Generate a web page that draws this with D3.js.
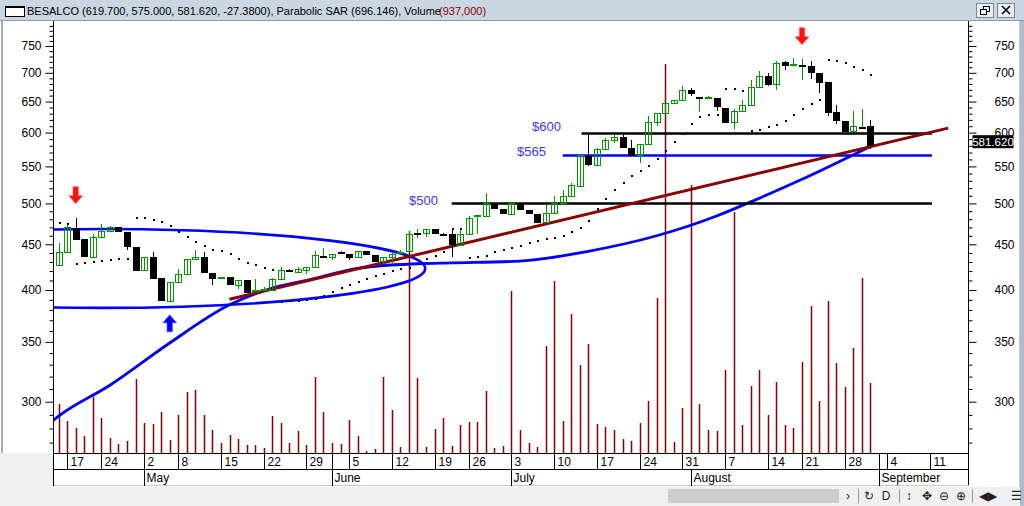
<!DOCTYPE html>
<html>
<head>
<meta charset="utf-8">
<script src="https://cdn.jsdelivr.net/npm/d3@7"></script>
<style>
  body { margin: 0; background: #fff; overflow: hidden; }
  text { font-family: "Liberation Sans", Arial, sans-serif; }
</style>
</head>
<body>
<svg id="chart" width="1024" height="506"></svg>
<script>
// daily bars, index 0 = 13 Apr 2017 (last = 1 Sep)
const opens = [427,441,469,456,436,458,466,470,464,447,421,436,413,389,408,417,433,436,418,412,
  414,405,410,398,400,400,411,422,419,421,424,437,435,441,439,435,442,438,431,436,
  439,442,463,463,468,463,462,449,462,484,484,501,493,487,501,492,486,476,488,501,
  509,523,565,552,575,588,594,577,567,582,617,631,648,653,670,658,655,656,640,617,
  634,645,675,694,680,720,714,715,712,700,683,632,619,602,609,611];
const highs = [452,475,482,456,462,474,472,470,464,447,436,441,413,408,422,433,443,441,418,414,
  414,410,410,411,403,413,424,422,424,424,442,446,439,442,439,442,442,438,436,441,
  444,466,468,468,468,463,469,468,484,485,513,501,493,501,501,492,486,498,509,518,
  527,566,600,576,591,597,599,588,582,626,631,648,653,677,673,658,659,656,640,637,
  653,687,703,699,722,721,728,726,721,700,683,645,619,634,637,619.7];
const lows = [427,441,455,436,436,458,466,466,443,420,421,412,389,388,408,417,433,419,405,412,
  406,401,398,398,399,400,411,420,419,417,424,437,432,440,432,435,439,431,428,428,
  439,442,457,459,463,462,435,449,462,462,484,494,488,487,493,488,476,476,488,501,
  509,523,550,552,575,584,578,567,555,582,610,631,648,653,660,632,655,635,615,606,
  634,643,675,677,669,705,714,687,688,664,626,614,603,602,608,575];
const closes = [441,471,456,437,458,466,470,466,448,421,436,413,390,408,417,433,436,419,413,414,
  406,410,398,400,401,411,421,421,422,424,438,437,439,441,435,442,439,431,436,439,
  441,462,463,468,463,462,450,462,482,485,501,494,488,501,493,488,476,488,501,509,
  524,566,554,575,589,594,578,567,582,617,631,648,653,670,665,658,657,643,617,634,
  645,675,694,680,718,715,716,715,701,683,632,620,603,611,609,581.62];
// volume, thousands of shares
const volumes = [656,428,335,228,754,469,201,121,161,991,402,388,549,174,509,817,844,509,308,134,
  241,187,107,107,67,495,402,134,295,107,1018,549,134,121,442,228,27,54,1018,576,
  80,2972,1004,80,321,469,94,375,415,415,830,67,94,2169,308,134,80,1433,2303,428,
  1861,1178,1459,388,348,308,187,161,402,696,2075,5209,147,603,3589,656,308,295,1111,3227,
  375,897,1111,509,951,375,335,1218,1968,696,2035,1205,884,1406,2343,937];
// Parabolic SAR
const sar = [475,474,428,429,430,431,432,433,433.5,482,481,479,477,472,465,458.5,452.5,447.5,443,442,
  439,433,429,427,423,421.5,388,388.7,389.3,390.3,391,394,398,402.5,405.5,408.5,412,415,417,420,
  422.4,423.5,428,433,437,441,468,468,434.5,435.6,436.4,441,443,446,448.3,451,453.6,456,457.5,460,
  464,469,478,492.4,506,518,527.5,537,544,551,560.5,572,585.5,598,614,625,627.5,627.5,672,672,
  668,603,604.5,609.5,612,619,627.5,638,645.5,653,723,721,717,711,705,696];
// long blue average, read at these bar indices
const avgIdx = [-0.6, 0, 6, 13, 20, 25, 29, 35, 42, 46, 54, 62, 70, 77, 81, 87, 95];
const avgVal = [286, 289, 313, 349, 385, 402, 410, 423, 428, 429, 431, 442, 460, 484, 502, 532, 579];

const priceTicks = [300, 350, 400, 450, 500, 550, 600, 650, 700, 750];
const dayTickIdx = [1, 5, 10, 14, 19, 24, 29, 32, 34, 39, 44, 48, 53, 58, 63, 68, 73, 78, 83, 87, 92, 96, 97, 102];
const dayTickLabels = ["17","24","2","8","15","22","29","","5","12","19","26","3","10","17","24","31","7","14","21","28","","4","11"];
const monthIdx = [10, 32, 53, 74, 96];
const monthLabels = ["May", "June", "July", "August", "September"];

// drawn annotations
const levelPrice = [600, 566, 501];
const levelLabel = ["$600", "$565", "$500"];
const levelFrom = [61.2, 59, 46];
const levelTo = [102.2, 102.2, 102.2];
const levelColor = ["#000", "#0000ff", "#000"];
const trendIdx = [20, 104.1];
const trendVal = [390.6, 607];
const ellipseIdx = 4.9, ellipseDays = 38, ellipseTop = 468, ellipseBottom = 382;
const arrowIdx = [2, 87, 13];
const arrowDir = ["down", "down", "up"];

const W = 1024, H = 506;
const plot = {left: 53.5, right: 968.5, top: 21, bottom: 453};
const svg = d3.select("#chart");

const x = d3.scaleLinear().domain([0, 102]).range([58.6, 930.2]);
const y = d3.scaleLog().domain([300, 750]).range([401.7, 46]);
const vy = d3.scaleLinear().domain([0, 5800]).range([453, 20]);

// window frame
svg.append("rect").attr("width", W).attr("height", 20).attr("fill", "#cbd6e3");
svg.append("line").attr("x1", 0).attr("x2", W).attr("y1", 20.5).attr("y2", 20.5).attr("stroke", "#8f9aa6");
svg.append("rect").attr("x", 5.5).attr("y", 6.5).attr("width", 19).attr("height", 10)
  .attr("fill", "#fff").attr("stroke", "#000");
svg.append("line").attr("x1", 5).attr("x2", 25).attr("y1", 7).attr("y2", 7).attr("stroke", "#000").attr("stroke-width", 2);
svg.append("text").attr("x", 27).attr("y", 15).attr("font-size", 11).attr("fill", "#000")
  .text("BESALCO (619.700, 575.000, 581.620, -27.3800), Parabolic SAR (696.146), Volume");
svg.append("text").attr("x", 439).attr("y", 15).attr("font-size", 11).attr("fill", "#8b0000")
  .text("(937,000)");

// title buttons
[976, 997].forEach((bx, k) => {
  svg.append("rect").attr("x", bx + 0.5).attr("y", 3.5).attr("width", 17).attr("height", 14)
    .attr("fill", "#e9edf2").attr("stroke", "#7d8894");
  if (k === 0) {
    svg.append("rect").attr("x", bx + 7.5).attr("y", 6.5).attr("width", 6).attr("height", 5).attr("fill", "none").attr("stroke", "#000");
    svg.append("rect").attr("x", bx + 4.5).attr("y", 9.5).attr("width", 6).attr("height", 5).attr("fill", "#e9edf2").attr("stroke", "#000");
  } else {
    svg.append("path").attr("d", `M${bx + 5},${6} L${bx + 13},${14} M${bx + 13},${6} L${bx + 5},${14}`)
      .attr("stroke", "#000").attr("stroke-width", 1.6);
  }
});

// side strips
svg.append("line").attr("x1", 2).attr("x2", 2).attr("y1", 21).attr("y2", 486).attr("stroke", "#a9a9a9").attr("stroke-width", 2);
svg.append("rect").attr("x", 0).attr("y", 453).attr("width", 53).attr("height", 34).attr("fill", "#f0f0f0");
svg.append("line").attr("x1", 1019.5).attr("x2", 1019.5).attr("y1", 21).attr("y2", 506).attr("stroke", "#c8c8c8");
svg.append("rect").attr("x", 1020).attr("y", 21).attr("width", 4).attr("height", 485).attr("fill", "#aebccb");

// clip for plot content
svg.append("clipPath").attr("id", "pc").append("rect")
  .attr("x", plot.left).attr("y", plot.top).attr("width", plot.right - plot.left).attr("height", plot.bottom - plot.top);
const g = svg.append("g").attr("clip-path", "url(#pc)");

// volume
g.selectAll(".vol").data(volumes).join("rect").attr("class", "vol")
  .attr("x", (d, i) => Math.round(x(i)) - 0.25).attr("width", 1.5)
  .attr("y", d => vy(d)).attr("height", d => vy(0) - vy(d))
  .attr("fill", "#8b0000");

// ellipse
const ecx = x(ellipseIdx), erx = x(ellipseIdx + ellipseDays) - ecx;
const ecy = (y(ellipseTop) + y(ellipseBottom)) / 2, ery = (y(ellipseBottom) - y(ellipseTop)) / 2;
g.append("ellipse").attr("cx", ecx).attr("cy", ecy).attr("rx", erx).attr("ry", ery)
  .attr("fill", "none").attr("stroke", "#0000ff").attr("stroke-width", 2.6);

// long average curve
const avgLine = d3.line().x(d => x(d[0])).y(d => y(d[1])).curve(d3.curveMonotoneX);
g.append("path").datum(avgIdx.map((d, k) => [d, avgVal[k]])).attr("d", avgLine)
  .attr("fill", "none").attr("stroke", "#0000ff").attr("stroke-width", 2.8);

// horizontal levels
levelPrice.forEach((p, k) => {
  g.append("line").attr("x1", x(levelFrom[k])).attr("x2", x(levelTo[k]))
    .attr("y1", Math.round(y(p)) + 0.5).attr("y2", Math.round(y(p)) + 0.5)
    .attr("stroke", levelColor[k]).attr("stroke-width", 2.4);
});
const lblPos = [[532, 131], [517, 156], [409, 205]];
levelLabel.forEach((t, k) => {
  svg.append("text").attr("x", lblPos[k][0]).attr("y", lblPos[k][1]).attr("font-size", 13)
    .attr("fill", "#3a3aff").text(t);
});

// trend line
g.append("line").attr("x1", x(trendIdx[0])).attr("y1", y(trendVal[0]))
  .attr("x2", x(trendIdx[1])).attr("y2", y(trendVal[1]))
  .attr("stroke", "#8b0000").attr("stroke-width", 3);

// candles
const candles = opens.map((o, i) => ({i, o, h: highs[i], l: lows[i], c: closes[i]}));
const up = "#009a00";
const cg = g.selectAll(".candle").data(candles).join("g").attr("class", "candle")
  .attr("shape-rendering", "crispEdges");
cg.append("line")
  .attr("x1", d => Math.round(x(d.i)) + 0.5).attr("x2", d => Math.round(x(d.i)) + 0.5)
  .attr("y1", d => y(d.h)).attr("y2", d => y(d.l))
  .attr("stroke", d => d.c >= d.o ? up : "#000");
cg.filter(d => Math.abs(y(d.o) - y(d.c)) >= 2).append("rect")
  .attr("x", d => Math.round(x(d.i)) - 2.5)
  .attr("width", 6)
  .attr("y", d => Math.round(y(Math.max(d.o, d.c))) + 0.5)
  .attr("height", d => Math.max(1, Math.round(y(Math.min(d.o, d.c))) - Math.round(y(Math.max(d.o, d.c)))))
  .attr("fill", d => d.c >= d.o ? "none" : "#000")
  .attr("stroke", d => d.c >= d.o ? up : "#000");
cg.filter(d => Math.abs(y(d.o) - y(d.c)) < 2).append("line")
  .attr("x1", d => Math.round(x(d.i)) - 3).attr("x2", d => Math.round(x(d.i)) + 4)
  .attr("y1", d => Math.round(y(d.c)) + 0.5).attr("y2", d => Math.round(y(d.c)) + 0.5)
  .attr("stroke", d => d.c > d.o ? up : "#000").attr("stroke-width", 2);

// parabolic SAR dots
g.selectAll(".sar").data(sar).join("rect").attr("class", "sar")
  .attr("x", (d, i) => Math.round(x(i))).attr("y", d => Math.round(y(d)) - 1)
  .attr("width", 2).attr("height", 2).attr("fill", "#000");

// arrows
arrowIdx.forEach((i, k) => {
  const cx = x(i);
  if (arrowDir[k] === "down") {
    const t = y(highs[i]) - 14;
    g.append("path").attr("d", `M${cx - 2.7},${t - 17} h5.4 v9 h4.2 L${cx},${t} L${cx - 6.9},${t - 8} h4.2 Z`)
      .attr("fill", "#ff1010").attr("stroke", "#ff6060").attr("stroke-width", 0.6);
  } else {
    const t = y(lows[i]) + 13;
    g.append("path").attr("d", `M${cx - 2.7},${t + 17} h5.4 v-9 h4.2 L${cx},${t} L${cx - 6.9},${t + 8} h4.2 Z`)
      .attr("fill", "#0000ff").attr("stroke", "#5050ff").attr("stroke-width", 0.6);
  }
});

// price axes
const yl = svg.append("g").attr("transform", `translate(${plot.left},0)`);
const minor = d3.range(270, 800, 10).filter(v => priceTicks.indexOf(v) < 0 && y(v) > plot.top && y(v) < plot.bottom);
yl.call(d3.axisLeft(y).tickValues(minor).tickSize(4).tickFormat(""));
yl.call(g2 => g2.append("g").call(d3.axisLeft(y).tickValues(priceTicks).tickSize(8).tickFormat(d3.format("d"))));
const yr = svg.append("g").attr("transform", `translate(${plot.right},0)`);
yr.call(d3.axisRight(y).tickValues(minor).tickSize(4).tickFormat(""));
yr.call(g2 => g2.append("g").call(d3.axisRight(y).tickValues(priceTicks).tickSize(8).tickFormat(d3.format("d"))));
svg.selectAll(".domain").remove();
svg.selectAll(".tick line").attr("stroke", "#000");
svg.selectAll(".tick text").attr("font-size", 12).attr("fill", "#000")
  .attr("font-family", "'Liberation Sans', Arial, sans-serif");
yl.selectAll(".tick text").attr("x", -12);
yr.selectAll(".tick text").attr("x", 26);
[plot.left, plot.right].forEach(px => {
  svg.append("line").attr("x1", px).attr("x2", px).attr("y1", plot.top).attr("y2", 486).attr("stroke", "#000");
});

// last price box
const lastY = y(closes[closes.length - 1]) - 3;
svg.append("rect").attr("x", 972.5).attr("y", lastY - 6.5).attr("width", 41).attr("height", 13).attr("fill", "#000");
svg.append("text").attr("x", 993).attr("y", lastY + 4).attr("text-anchor", "middle").attr("font-size", 11.5)
  .attr("fill", "#fff").text(d3.format(".3f")(closes[closes.length - 1]));

// date axis
const da = svg.append("g").attr("shape-rendering", "crispEdges");
[[453.5, "#000"], [469.5, "#000"], [485.5, "#c8c8c8"]].forEach(([ly, c]) => {
  da.append("line").attr("x1", plot.left).attr("x2", plot.right).attr("y1", ly).attr("y2", ly).attr("stroke", c);
});
dayTickIdx.forEach((i, k) => {
  const tx = Math.round(x(i)) + 0.5;
  da.append("line").attr("x1", tx).attr("x2", tx).attr("y1", 453.5).attr("y2", 469.5).attr("stroke", "#000");
  da.append("text").attr("x", tx + 3).attr("y", 466).attr("font-size", 12).attr("fill", "#000").text(dayTickLabels[k]);
});
monthIdx.forEach((i, k) => {
  const tx = Math.round(x(i)) + 0.5;
  da.append("line").attr("x1", tx).attr("x2", tx).attr("y1", 469.5).attr("y2", 485.5).attr("stroke", "#000");
  da.append("text").attr("x", tx + 2).attr("y", 482).attr("font-size", 12).attr("fill", "#000").text(monthLabels[k]);
});

// bottom toolbar
svg.append("rect").attr("x", 0).attr("y", 487).attr("width", 1020).attr("height", 19).attr("fill", "#f0f0f0");
svg.append("rect").attr("x", 668).attr("y", 489).attr("width", 171).attr("height", 14).attr("fill", "#cdcdcd");
const tools = [[848, "›"], [869, "↻"], [886, "D"], [909, "↕"], [927, "✥"], [944, "⊖"], [961, "⊕"], [983, "◀"], [992, "▶"], [1016, "☰"]];
tools.forEach(([tx, t]) => {
  svg.append("text").attr("x", tx).attr("y", 500).attr("text-anchor", "middle").attr("font-size", 12)
    .attr("font-family", "'DejaVu Sans', sans-serif").attr("fill", "#222").text(t);
});
[858.5, 899.5, 972.5].forEach(lx => {
  svg.append("line").attr("x1", lx).attr("x2", lx).attr("y1", 489).attr("y2", 503).attr("stroke", "#999");
});
</script>
</body>
</html>
